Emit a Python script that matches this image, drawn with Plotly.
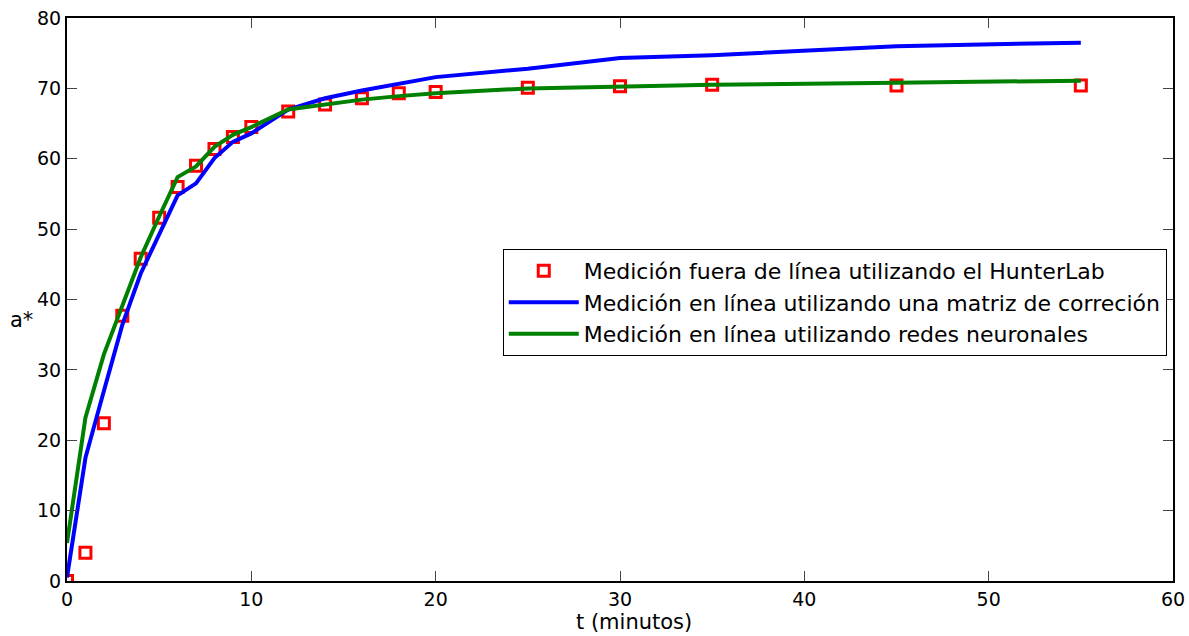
import plotly.graph_objects as go

# Time points (minutes)
t = [0, 1, 2, 3, 4, 5, 6, 7, 8, 9, 10, 12, 14, 16, 18, 20, 25, 30, 35, 45, 55]

# Off-line HunterLab measurement of a*
hunterlab = [0.0, 4.0, 22.4, 37.7, 45.8, 51.6, 56.0, 59.0, 61.4, 63.1, 64.5,
             66.7, 67.7, 68.6, 69.3, 69.5, 70.1, 70.3, 70.5, 70.4, 70.4]

# On-line measurement with correction matrix
matriz = [0.5, 17.5, 27.0, 36.4, 43.7, 49.4, 54.8, 56.5, 60.1, 62.4, 63.6,
          67.0, 68.6, 69.7, 70.7, 71.6, 72.8, 74.3, 74.7, 76.0, 76.5]

# On-line measurement with neural networks
redes = [5.4, 23.2, 32.2, 39.0, 46.0, 51.8, 57.4, 58.9, 61.7, 63.4, 64.5,
         67.0, 67.7, 68.4, 68.9, 69.3, 70.0, 70.3, 70.5, 70.8, 71.1]

x_ticks = [0, 10, 20, 30, 40, 50, 60]
y_ticks = [0, 10, 20, 30, 40, 50, 60, 70, 80]

FONT = "DejaVu Sans"

fig = go.Figure()
fig.add_trace(go.Scatter(
    x=t, y=hunterlab, mode="markers",
    name="Medición fuera de línea utilizando el HunterLab",
    marker=dict(symbol="square-open", size=11, color="#ff0000",
                line=dict(width=3, color="#ff0000")),
))
fig.add_trace(go.Scatter(
    x=t, y=matriz, mode="lines",
    name="Medición en línea utilizando una matriz de correción",
    line=dict(color="#0000ff", width=4),
))
fig.add_trace(go.Scatter(
    x=t, y=redes, mode="lines",
    name="Medición en línea utilizando redes neuronales",
    line=dict(color="#008000", width=4),
))

axis_common = dict(
    showgrid=False, zeroline=False, automargin=False,
    showline=True, linecolor="black", linewidth=2, mirror="ticks",
    ticks="inside", ticklen=10, tickwidth=1, tickcolor="#444",
    tickfont=dict(family=FONT, size=19, color="black"),
)

fig.update_layout(
    width=1189, height=636,
    margin=dict(l=67, r=16, t=18, b=55),
    paper_bgcolor="white", plot_bgcolor="white",
    font=dict(family=FONT, color="black"),
    xaxis=dict(range=[0, 60], tickvals=x_ticks, **axis_common),
    yaxis=dict(range=[0, 80], tickvals=y_ticks, **axis_common),
    legend=dict(
        x=0.394, y=0.59, xanchor="left", yanchor="top",
        bgcolor="white", bordercolor="black", borderwidth=1,
        font=dict(family=FONT, size=22, color="black"),
        itemwidth=70, tracegroupgap=0,
    ),
    annotations=[
        dict(text="t (minutos)", x=0.513, y=-0.073, xref="paper", yref="paper",
             xanchor="center", yanchor="middle", showarrow=False,
             font=dict(family=FONT, size=21, color="black")),
        dict(text="a*", x=-0.041, y=0.464, xref="paper", yref="paper",
             xanchor="center", yanchor="middle", showarrow=False,
             font=dict(family=FONT, size=21, color="black")),
    ],
)

fig.write_html("out.html")
